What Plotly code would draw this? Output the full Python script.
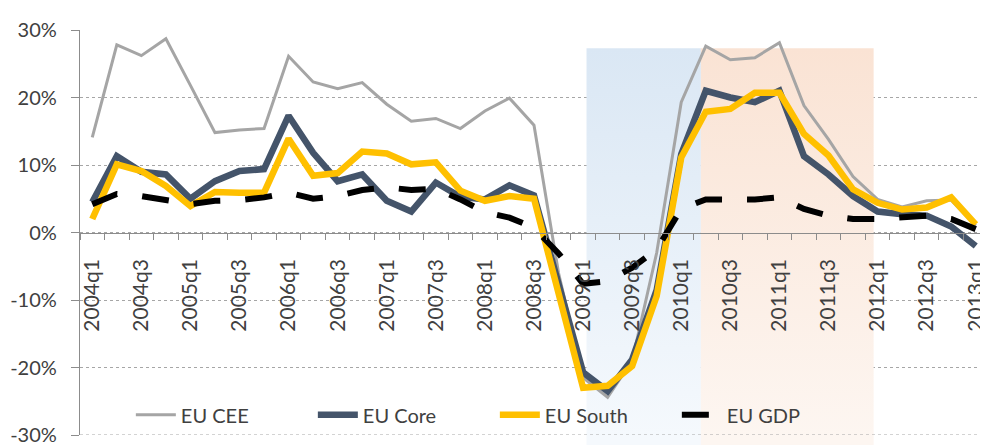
import plotly.graph_objects as go

quarters = [
    "2004q1", "2004q2", "2004q3", "2004q4", "2005q1", "2005q2", "2005q3", "2005q4",
    "2006q1", "2006q2", "2006q3", "2006q4", "2007q1", "2007q2", "2007q3", "2007q4",
    "2008q1", "2008q2", "2008q3", "2008q4", "2009q1", "2009q2", "2009q3", "2009q4",
    "2010q1", "2010q2", "2010q3", "2010q4", "2011q1", "2011q2", "2011q3", "2011q4",
    "2012q1", "2012q2", "2012q3", "2012q4", "2013q1",
]

eu_cee = [14.1, 27.8, 26.2, 28.7, 21.8, 14.8, 15.2, 15.4, 26.1, 22.3, 21.3, 22.2,
          19.0, 16.5, 16.9, 15.4, 18.0, 19.9, 15.9, -6.0, -21.5, -24.4, -19.0, -3.0,
          19.3, 27.6, 25.6, 25.9, 28.1, 18.8, 13.8, 8.3, 4.9, 3.8, 4.7, 4.8, 1.0]

eu_core = [4.5, 11.3, 9.0, 8.6, 5.0, 7.6, 9.1, 9.4, 17.3, 11.8, 7.6, 8.6,
           4.7, 3.1, 7.4, 5.3, 4.9, 7.0, 5.5, -8.0, -20.7, -23.5, -18.8, -8.5,
           11.6, 21.0, 20.0, 19.3, 21.0, 11.3, 8.6, 5.4, 3.1, 2.7, 2.5, 0.9, -2.0]

eu_south = [2.0, 10.1, 9.1, 6.9, 3.9, 6.0, 5.9, 5.9, 13.9, 8.4, 8.8, 12.0,
            11.7, 10.1, 10.4, 6.2, 4.7, 5.4, 5.0, -9.0, -23.0, -22.7, -19.8, -9.4,
            11.1, 17.9, 18.3, 20.7, 20.7, 14.6, 11.4, 6.4, 4.4, 3.4, 3.7, 5.2, 1.2]

eu_gdp = [4.2, 5.7, 5.4, 4.9, 4.2, 4.7, 4.8, 5.2, 5.9, 5.0, 5.4, 6.3,
          6.7, 6.3, 6.5, 4.9, 3.0, 2.2, 0.7, -3.1, -7.6, -7.2, -5.2, -2.5,
          3.5, 4.9, 4.9, 4.9, 5.2, 3.5, 2.5, 2.0, 2.0, 2.2, 2.5, 2.0, 0.5]

tick_labels = ["2004q1", "2004q3", "2005q1", "2005q3", "2006q1", "2006q3", "2007q1",
               "2007q3", "2008q1", "2008q3", "2009q1", "2009q3", "2010q1", "2010q3",
               "2011q1", "2011q3", "2012q1", "2012q3", "2013q1"]

y_ticks = [-30, -20, -10, 0, 10, 20, 30]
y_tick_labels = ["-30%", "-20%", "-10%", "0%", "10%", "20%", "30%"]

# shaded periods (in quarter-index units) and their gradient colours (top, bottom)
shade_start = [20.14, 24.8]
shade_end = [24.8, 31.84]
shade_top = 27.3
shade_top_colors = ["#dae7f4", "#fae3d4"]
shade_bottom_colors = ["#f5f9fd", "#fdf6f1"]

x_idx = list(range(len(quarters)))
tick_pos = [x_idx[quarters.index(t)] for t in tick_labels]

FONT = "Lato"
TXT = "#404040"
AXC = "#8c8c8c"
Y_MIN, Y_MAX = -30, 30

fig = go.Figure()

for s, e, ct, cb in zip(shade_start, shade_end, shade_top_colors, shade_bottom_colors):
    fig.add_trace(go.Scatter(
        x=[s, e, e, s, s], y=[shade_top, shade_top, Y_MIN, Y_MIN, shade_top],
        mode="lines", line=dict(width=0), fill="toself",
        fillgradient=dict(type="vertical", start=Y_MIN, stop=shade_top,
                          colorscale=[[0, cb], [1, ct]]),
        showlegend=False, hoverinfo="skip",
    ))
    fig.add_shape(type="rect", xref="x", yref="paper", x0=s, x1=e, y0=-0.03, y1=0,
                  fillcolor=cb, line=dict(width=0), layer="below")

# dotted gridline at the bottom of the value axis
fig.add_shape(type="line", xref="paper", yref="y", x0=0, x1=1, y0=Y_MIN, y1=Y_MIN,
              line=dict(color="#a6a6a6", width=1, dash="dot"), layer="above")

fig.add_trace(go.Scatter(x=x_idx, y=eu_cee, name="EU CEE", mode="lines",
                         line=dict(color="#a5a5a5", width=3)))
fig.add_trace(go.Scatter(x=x_idx, y=eu_core, name="EU Core", mode="lines",
                         line=dict(color="#44546a", width=6.5)))
fig.add_trace(go.Scatter(x=x_idx, y=eu_south, name="EU South", mode="lines",
                         line=dict(color="#ffc000", width=6.5)))
fig.add_trace(go.Scatter(x=x_idx, y=eu_gdp, name="EU GDP", mode="lines",
                         line=dict(color="#000000", width=6, dash="27px,25px")))

# the page body adds an 8px offset, so the figure is 8px smaller than the window
fig.update_layout(
    width=980, height=437,
    margin=dict(l=72, r=0, t=22, b=10),
    paper_bgcolor="white", plot_bgcolor="rgba(0,0,0,0)",
    font=dict(family=FONT, size=20, color=TXT),
    showlegend=True,
    legend=dict(orientation="h", x=0.056, xanchor="left", y=0.05, yanchor="middle",
                bgcolor="rgba(0,0,0,0)", font=dict(family=FONT, size=20, color=TXT),
                entrywidth=127, itemwidth=40),
    xaxis=dict(
        range=[-0.5, len(quarters) - 0.5],
        tickmode="array", tickvals=tick_pos, ticktext=tick_labels,
        tickangle=-90, ticks="outside", ticklen=0,
        ticklabelstandoff=17,
        minor=dict(ticks="outside", tick0=-0.5, dtick=1, ticklen=6,
                   tickcolor=AXC, tickwidth=1, showgrid=False),
        showline=True, linecolor=AXC, linewidth=1.3,
        anchor="free", position=0.5, automargin=False,
        showgrid=False, zeroline=False,
        tickfont=dict(family=FONT, size=21, color=TXT),
    ),
    yaxis=dict(
        range=[Y_MIN, Y_MAX], tickvals=y_ticks, ticktext=y_tick_labels,
        ticks="outside", ticklen=8, tickcolor=AXC,
        ticklabelstandoff=10, automargin=False, ticklabeloverflow="allow",
        showline=True, linecolor=AXC, linewidth=1.3,
        showgrid=True, gridcolor="#a6a6a6", griddash="dot", gridwidth=1,
        zeroline=False,
        tickfont=dict(family=FONT, size=20, color=TXT),
    ),
)

fig.write_html("out.html")
